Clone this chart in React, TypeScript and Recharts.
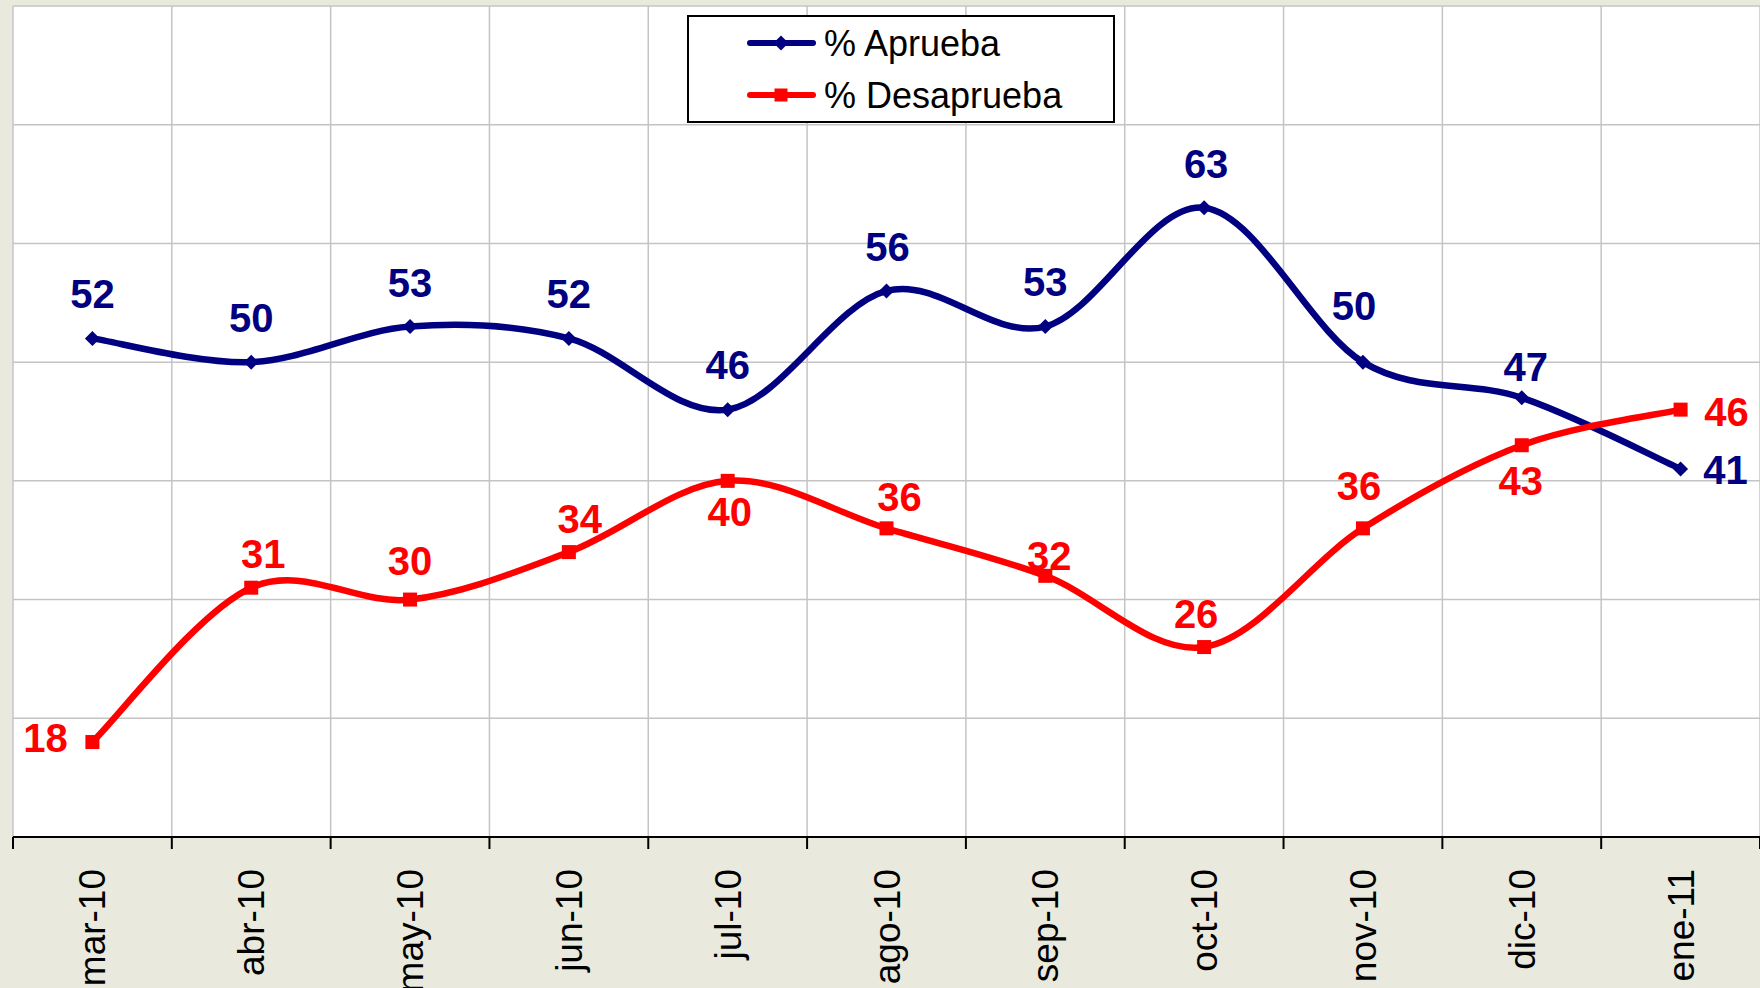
import React from 'react';
import { LineChart, Line, XAxis, YAxis, CartesianGrid, Legend, LabelList } from 'recharts';

const months = ['mar-10', 'abr-10', 'may-10', 'jun-10', 'jul-10', 'ago-10', 'sep-10', 'oct-10', 'nov-10', 'dic-10', 'ene-11'];
const aprueba = [52, 50, 53, 52, 46, 56, 53, 63, 50, 47, 41];
const desaprueba = [18, 31, 30, 34, 40, 36, 32, 26, 36, 43, 46];
const yTicks = [10, 20, 30, 40, 50, 60, 70, 80];

// label placement (dx, dy from the marker), tuned by eye
const apruebaLabelOffsets = [
  [0, -44], [0, -44], [0, -44], [0, -44], [0, -45], [1, -44],
  [0, -45], [2, -44], [-9, -56], [4, -31], [45, 1],
];
const desapruebaLabelOffsets = [
  [-47, -4], [12, -34], [0, -39], [11, -33], [2, 31], [13, -31],
  [4, -20], [-8, -33], [-4, -42], [-1, 36], [46, 2],
];

const WIDTH = 1760;
const HEIGHT = 988;
const MARGIN = { top: 6, right: 0, bottom: 0, left: 13 };
const BAND = (WIDTH - MARGIN.left - MARGIN.right) / months.length;

const BLUE = '#000080';
const RED = '#FF0000';
const FONT = '"Liberation Sans", Arial, sans-serif';

const data = months.map((month, i) => ({ i, month, aprueba: aprueba[i], desaprueba: desaprueba[i] }));
const xBoundaries = [...months.map((_, i) => i - 0.5), months.length - 0.5];

// Excel-style smoothing (Catmull-Rom through the points)
const catmullRom = (context: any) => {
  let pts: number[][] = [];
  return {
    areaStart() {},
    areaEnd() {},
    lineStart() {
      pts = [];
    },
    point(x: number, y: number) {
      pts.push([+x, +y]);
    },
    lineEnd() {
      if (!pts.length) return;
      context.moveTo(pts[0][0], pts[0][1]);
      for (let k = 0; k < pts.length - 1; k++) {
        const p0 = pts[k - 1] || pts[k];
        const p1 = pts[k];
        const p2 = pts[k + 1];
        const p3 = pts[k + 2] || p2;
        context.bezierCurveTo(
          p1[0] + (p2[0] - p0[0]) / 6,
          p1[1] + (p2[1] - p0[1]) / 6,
          p2[0] - (p3[0] - p1[0]) / 6,
          p2[1] - (p3[1] - p1[1]) / 6,
          p2[0],
          p2[1]
        );
      }
    },
  };
};

const diamond = (cx: number, cy: number, r: number, fill: string, key?: any) => (
  <polygon key={key} points={`${cx},${cy - r} ${cx + r},${cy} ${cx},${cy + r} ${cx - r},${cy}`} fill={fill} />
);
const square = (cx: number, cy: number, r: number, fill: string, key?: any) => (
  <rect key={key} x={cx - r} y={cy - r} width={r * 2} height={r * 2} fill={fill} />
);

const MonthTick = ({ x, y, payload }: any) => {
  const idx = payload.value + 0.5;
  if (idx < 0 || idx >= months.length) return <g />;
  const cx = x + BAND / 2;
  const ty = y + 18;
  return (
    <text
      x={cx}
      y={ty}
      dy={13}
      transform={`rotate(-90, ${cx}, ${ty})`}
      textAnchor="end"
      fontFamily={FONT}
      fontSize={37}
      fill="#000"
    >
      {months[idx]}
    </text>
  );
};

const makeLabel = (offsets: number[][], color: string) => (props: any) => {
  const { x, y, value, index } = props;
  const [dx, dy] = offsets[index] || [0, -44];
  return (
    <text
      x={x + dx}
      y={y + dy}
      dy={14}
      textAnchor="middle"
      fontFamily={FONT}
      fontWeight="bold"
      fontSize={40}
      fill={color}
    >
      {value}
    </text>
  );
};

const LegendBox = () => (
  <svg width={428} height={108} style={{ display: 'block' }}>
    <rect x={1} y={1} width={426} height={106} fill="#fff" stroke="#000" strokeWidth={2} />
    <line x1={63} x2={126} y1={28} y2={28} stroke={BLUE} strokeWidth={6} strokeLinecap="round" />
    {diamond(94, 28, 7.5, BLUE)}
    <text x={137} y={41} fontFamily={FONT} fontSize={36} fill="#000">% Aprueba</text>
    <line x1={63} x2={126} y1={80} y2={80} stroke={RED} strokeWidth={6} strokeLinecap="round" />
    {square(94, 80, 6.5, RED)}
    <text x={137} y={93} fontFamily={FONT} fontSize={36} fill="#000">% Desaprueba</text>
  </svg>
);

export default function App() {
  return (
    <div style={{ position: 'absolute', left: 0, top: 0, width: WIDTH, height: HEIGHT, background: '#E9E9DE', overflow: 'hidden' }}>
      <LineChart width={WIDTH} height={HEIGHT} data={data} margin={MARGIN}>
        <CartesianGrid fill="#FFFFFF" stroke="#C4C4C4" strokeWidth={1.5} />
        <XAxis
          dataKey="i"
          type="number"
          domain={[-0.5, months.length - 0.5]}
          ticks={xBoundaries}
          interval={0}
          height={151}
          tickSize={12}
          stroke="#000"
          strokeWidth={2}
          tick={<MonthTick />}
        />
        <YAxis hide domain={[10, 80]} ticks={yTicks} />
        <Legend
          layout="vertical"
          align="center"
          verticalAlign="middle"
          wrapperStyle={{ left: 687, top: 15, width: 428, height: 108 }}
          content={() => <LegendBox />}
        />
        <Line
          dataKey="aprueba"
          type={catmullRom as any}
          stroke={BLUE}
          strokeWidth={6.5}
          isAnimationActive={false}
          dot={(p: any) => diamond(p.cx, p.cy, 7.5, BLUE, `a${p.index}`)}
        >
          <LabelList dataKey="aprueba" content={makeLabel(apruebaLabelOffsets, BLUE)} />
        </Line>
        <Line
          dataKey="desaprueba"
          type={catmullRom as any}
          stroke={RED}
          strokeWidth={6.5}
          isAnimationActive={false}
          dot={(p: any) => square(p.cx, p.cy, 7, RED, `d${p.index}`)}
        >
          <LabelList dataKey="desaprueba" content={makeLabel(desapruebaLabelOffsets, RED)} />
        </Line>
      </LineChart>
    </div>
  );
}
